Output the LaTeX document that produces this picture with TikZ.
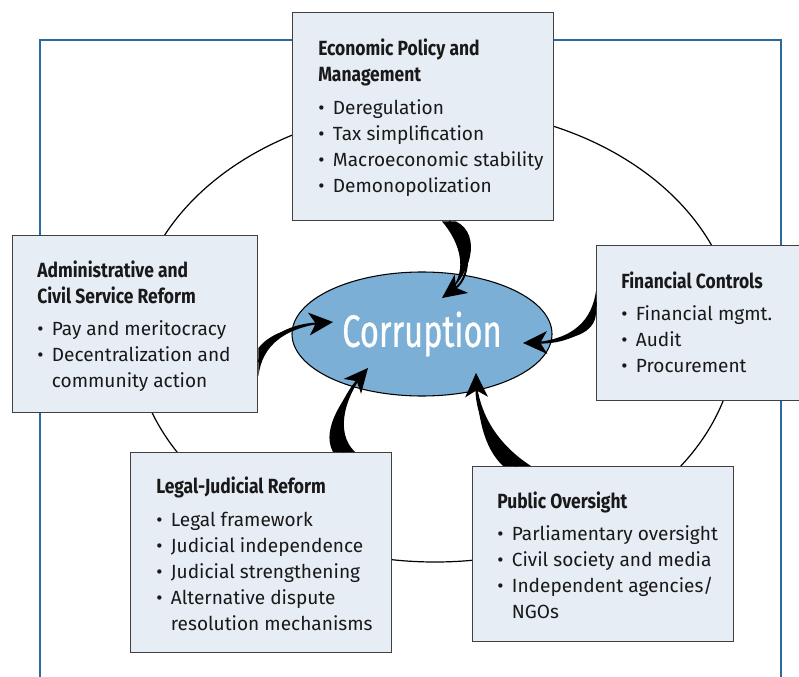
\documentclass[tikz,border=0pt]{standalone}
\usepackage{fontspec}
\setmainfont{Fira Sans}
\newfontfamily\titlefont{Fira Sans}[FakeStretch=0.85]
\newfontfamily\corrfont{Fira Sans}[FakeStretch=0.72,FakeBold=0.6]
\usetikzlibrary{shapes.geometric,arrows.meta,calc}

\definecolor{boxfill}{HTML}{E6EDF5}
\definecolor{corrfill}{HTML}{7BAFD6}
\definecolor{frameblue}{HTML}{2A6A9E}

\tikzset{
    box/.style={draw=black!75, line width=1.1pt, fill=boxfill, anchor=north west, inner sep=0pt},
    boxtext/.style={anchor=west, align=left, inner sep=0pt, text=black!90,
        font=\fontsize{14.3}{19.5}\selectfont},
    arrowline/.style={line width=1.5pt, -{Stealth[length=18pt,width=17pt,inset=5pt]}}
}
\newcommand\itm{\makebox[11pt][l]{\textbullet}}
\newcommand\boxtitle[1]{{\titlefont\bfseries\fontsize{15.4}{19.5}\selectfont #1}}

\begin{document}
\begin{tikzpicture}[x=0.75pt,y=-0.75pt]
    \useasboundingbox (0,0) rectangle (799,677);

    % Frame, open at the bottom
    \draw[frameblue, line width=1.2pt] (40,677) -- (40,40) -- (781,40) -- (781,677);

    % Large ring behind the boxes
    \draw[line width=0.9pt] (435,335) ellipse [x radius=301, y radius=227];

    % Boxes
    \node[box, minimum width=195.75pt, minimum height=156pt]    (econ)  at (292,12)  {};
    \node[box, minimum width=183.75pt, minimum height=132.75pt] (admin) at (12,235)  {};
    \node[box, minimum width=180pt,    minimum height=116.25pt] (fin)   at (596,245) {};
    \node[box, minimum width=195.75pt, minimum height=150pt]    (legal) at (130,452) {};
    \node[box, minimum width=195.75pt, minimum height=131.25pt] (pub)   at (472,466) {};

    % Centre
    \node[ellipse, draw=black, line width=0.8pt, fill=corrfill, inner sep=0pt,
          minimum width=195pt, minimum height=93pt, text=white,
          font=\corrfont\fontsize{34}{34}\selectfont] (corr) at (422,334) {Corruption};

    % Box texts
    \node[boxtext] (econ-txt) at ($(econ.west)+(26,1)$) {\boxtitle{Economic Policy and}\\
        \boxtitle{Management}\\[5pt]
        \itm Deregulation\\ \itm Tax simplification\\
        \itm Macroeconomic stability\\ \itm Demonopolization};
    \node[boxtext] (admin-txt) at ($(admin.west)+(25,2)$) {\boxtitle{Administrative and}\\
        \boxtitle{Civil Service Reform}\\[5pt]
        \itm Pay and meritocracy\\ \itm Decentralization and\\
        \hspace*{11pt}community action};
    \node[boxtext] (fin-txt) at ($(fin.west)+(25,-1)$) {\boxtitle{Financial Controls}\\[5pt]
        \itm Financial mgmt.\\ \itm Audit\\ \itm Procurement};
    \node[boxtext] (legal-txt) at ($(legal.west)+(26,1)$) {\boxtitle{Legal-Judicial Reform}\\[5pt]
        \itm Legal framework\\ \itm Judicial independence\\
        \itm Judicial strengthening\\ \itm Alternative dispute\\
        \hspace*{11pt}resolution mechanisms};
    \node[boxtext] (pub-txt) at ($(pub.west)+(25,1)$) {\boxtitle{Public Oversight}\\[5pt]
        \itm Parliamentary oversight\\ \itm Civil society and media\\
        \itm Independent agencies/\\ \hspace*{11pt}NGOs};

    % Arrow paths: start on the box, two controls, tip in the centre
    \coordinate (econ-s)  at ($(econ.south west)+(157,0)$);
    \coordinate (econ-a)  at (472,238);
    \coordinate (econ-b)  at (472,276);
    \coordinate (econ-e)  at ($(corr.center)+(20,-36)$);
    \coordinate (admin-s) at ($(admin.north east)+(0,127)$);
    \coordinate (admin-a) at (268,338);
    \coordinate (admin-b) at (285,326);
    \coordinate (admin-e) at ($(corr.center)+(-89,-12)$);
    \coordinate (fin-s)   at ($(fin.north west)+(0,57)$);
    \coordinate (fin-a)   at (594,326);
    \coordinate (fin-b)   at (576,342);
    \coordinate (fin-e)   at ($(corr.center)+(101,9)$);
    \coordinate (legal-s) at ($(legal.north west)+(214,0)$);
    \coordinate (legal-a) at (326,430);
    \coordinate (legal-b) at (345,395);
    \coordinate (legal-e) at ($(corr.center)+(-54,34)$);
    \coordinate (pub-s)   at ($(pub.north west)+(45,0)$);
    \coordinate (pub-a)   at (490,445);
    \coordinate (pub-b)   at (477,415);
    \coordinate (pub-e)   at ($(corr.center)+(54,39)$);

    % Tapered arrows: base offset, control offsets of both edges
    \foreach \k/\o/\p/\q in {econ/{-7,0}/{-12,4}/{10,-4}, admin/{0,-14}/{0,-2}/{-6,7},
                             fin/{0,-11}/{-2,-8}/{1,6}, legal/{-11,0}/{-6,-2}/{8,2},
                             pub/{-14,0}/{-7,2}/{10,1}} {
        \fill ($(\k-s)+(\o)$) .. controls ($(\k-a)+(\p)$) and (\k-b) .. (\k-e)
              .. controls (\k-b) and ($(\k-a)+(\q)$) .. ($(\k-s)-(\o)$) -- cycle;
        \draw[arrowline] (\k-s) .. controls (\k-a) and (\k-b) .. (\k-e);
    }
\end{tikzpicture}
\end{document}
